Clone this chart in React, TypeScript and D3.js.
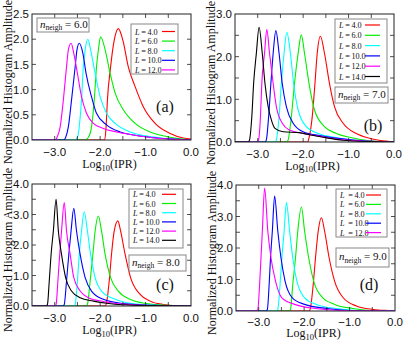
import React from "react";
import * as d3 from "d3";

type Pt = [number, number];

// ---------- data ----------
const COLORS = ["#ff0000", "#00ee00", "#00ffff", "#0000ff", "#ff00ff", "#000000"];
const L_LABELS_5 = ["4.0", "6.0", "8.0", "10.0", "12.0"];
const L_LABELS_6 = ["4.0", "6.0", "8.0", "10.0", "12.0", "14.0"];
const NEIGH_VALUES = ["6.0", "7.0", "8.0", "9.0"];
const PANEL_TAGS = ["(a)", "(b)", "(c)", "(d)"];
const X_TICK_VALUES = [-3, -2, -1, 0];
const X_TICK_LABELS = ["\u22123.0", "\u22122.0", "\u22121.0", "0.0"];
const Y_TICKS_A = [0, 0.5, 1, 1.5, 2, 2.5];
const Y_LABELS_A = ["0.0", "0.5", "1.0", "1.5", "2.0", "2.5"];
const Y_TICKS_B = [0, 1, 2, 3];
const Y_LABELS_B = ["0.0", "1.0", "2.0", "3.0"];
const Y_TICKS_CD = [0, 1, 2, 3, 4];
const Y_LABELS_CD = ["0.0", "1.0", "2.0", "3.0", "4.0"];

// panel (a): n_neigh = 6.0
const aL4: Pt[] = [[-3.5,0],[-1.9,0],[-1.87,0.25],[-1.84,0.79],[-1.77,1.45],[-1.69,1.98],[-1.6,2.21],[-1.5,1.98],[-1.38,1.45],[-1.23,1.06],[-1.05,0.66],[-0.79,0.33],[-0.46,0.13],[-0.17,0.04],[0,0.02]];
const aL6: Pt[] = [[-3.5,0],[-2.34,0],[-2.26,0.05],[-2.19,0.26],[-2.13,0.79],[-2.08,1.45],[-2.03,1.85],[-1.99,2.05],[-1.89,1.79],[-1.78,1.32],[-1.67,0.93],[-1.49,0.6],[-1.23,0.33],[-0.9,0.16],[-0.54,0.07],[-0.1,0.01],[0,0]];
const aL8: Pt[] = [[-3.5,0],[-2.56,0],[-2.49,0.08],[-2.45,0.35],[-2.41,0.79],[-2.37,1.45],[-2.33,1.79],[-2.27,2.0],[-2.21,1.79],[-2.11,1.32],[-2.0,0.86],[-1.86,0.53],[-1.67,0.33],[-1.34,0.16],[-0.9,0.07],[-0.35,0.01],[0,0]];
const aL10: Pt[] = [[-3.5,0],[-2.8,0],[-2.76,0.05],[-2.7,0.26],[-2.63,0.79],[-2.55,1.45],[-2.51,1.79],[-2.46,1.92],[-2.38,1.72],[-2.31,1.32],[-2.19,0.86],[-2.08,0.53],[-1.86,0.3],[-1.56,0.16],[-1.27,0.1],[-0.76,0.04],[-0.2,0.01],[0,0]];
const aL12: Pt[] = [[-3.5,0],[-2.98,0],[-2.95,0.05],[-2.88,0.26],[-2.81,0.79],[-2.74,1.45],[-2.7,1.79],[-2.64,1.92],[-2.58,1.72],[-2.5,1.32],[-2.41,0.86],[-2.3,0.53],[-2.15,0.33],[-1.93,0.23],[-1.64,0.16],[-1.27,0.1],[-0.8,0.04],[-0.3,0.01],[0,0]];

// panel (b): n_neigh = 7.0
const bL4: Pt[] = [[-3.5,0],[-1.9,0],[-1.87,0.1],[-1.8,0.59],[-1.74,1.37],[-1.69,2.08],[-1.62,2.48],[-1.53,2.08],[-1.42,1.37],[-1.31,0.83],[-1.12,0.44],[-0.83,0.2],[-0.54,0.09],[-0.17,0.02],[0,0]];
const bL6: Pt[] = [[-3.5,0],[-2.36,0],[-2.33,0.05],[-2.26,0.59],[-2.19,1.37],[-2.11,2.08],[-2.04,2.51],[-1.97,2.08],[-1.87,1.37],[-1.75,0.75],[-1.53,0.36],[-1.27,0.2],[-0.98,0.11],[-0.54,0.03],[0,0]];
const bL8: Pt[] = [[-3.5,0],[-2.62,0],[-2.59,0.05],[-2.53,0.59],[-2.48,1.37],[-2.42,2.08],[-2.36,2.57],[-2.28,2.08],[-2.21,1.37],[-2.11,0.75],[-1.93,0.36],[-1.67,0.2],[-1.31,0.11],[-0.8,0.03],[0,0]];
const bL10: Pt[] = [[-3.5,0],[-2.84,0],[-2.81,0.05],[-2.76,0.59],[-2.71,1.37],[-2.66,2.08],[-2.6,2.61],[-2.53,2.08],[-2.46,1.37],[-2.37,0.83],[-2.22,0.44],[-2.0,0.24],[-1.63,0.15],[-1.19,0.08],[-0.6,0.02],[0,0]];
const bL12: Pt[] = [[-3.5,0],[-3.01,0],[-2.98,0.05],[-2.94,0.59],[-2.91,1.37],[-2.85,2.08],[-2.8,2.64],[-2.74,2.08],[-2.66,1.37],[-2.59,0.83],[-2.46,0.44],[-2.3,0.28],[-2.0,0.2],[-1.56,0.12],[-1.0,0.04],[-0.4,0.01],[0,0]];
const bL14: Pt[] = [[-3.5,0],[-3.21,0],[-3.18,0.05],[-3.13,0.59],[-3.09,1.37],[-3.03,2.08],[-2.97,2.69],[-2.9,2.08],[-2.84,1.37],[-2.77,0.83],[-2.7,0.52],[-2.62,0.32],[-2.44,0.24],[-2.08,0.22],[-1.86,0.17],[-1.56,0.11],[-1.13,0.04],[-0.5,0.01],[0,0]];

// panel (c): n_neigh = 8.0
const cL4: Pt[] = [[-3.5,0],[-1.89,0],[-1.86,0.1],[-1.8,0.82],[-1.75,1.69],[-1.69,2.46],[-1.61,2.79],[-1.55,2.46],[-1.45,1.69],[-1.33,0.93],[-1.12,0.38],[-0.9,0.16],[-0.61,0.05],[-0.3,0.01],[0,0]];
const cL6: Pt[] = [[-3.5,0],[-2.31,0],[-2.28,0.05],[-2.22,0.82],[-2.16,1.69],[-2.11,2.46],[-2.04,2.95],[-1.97,2.46],[-1.89,1.69],[-1.77,0.93],[-1.6,0.49],[-1.34,0.22],[-0.98,0.08],[-0.5,0.02],[0,0]];
const cL8: Pt[] = [[-3.5,0],[-2.58,0],[-2.55,0.05],[-2.5,0.82],[-2.46,1.69],[-2.41,2.46],[-2.35,3.09],[-2.28,2.46],[-2.21,1.69],[-2.11,0.93],[-1.97,0.49],[-1.67,0.22],[-1.3,0.08],[-0.7,0.02],[0,0]];
const cL10: Pt[] = [[-3.5,0],[-2.82,0],[-2.79,0.05],[-2.74,0.82],[-2.69,1.69],[-2.64,2.46],[-2.58,3.2],[-2.52,2.46],[-2.44,1.69],[-2.33,0.93],[-2.19,0.49],[-1.93,0.22],[-1.49,0.08],[-0.8,0.02],[0,0]];
const cL12: Pt[] = [[-3.5,0],[-3.0,0],[-2.97,0.05],[-2.93,0.82],[-2.89,1.69],[-2.85,2.46],[-2.79,3.39],[-2.74,2.46],[-2.66,1.69],[-2.58,0.93],[-2.44,0.49],[-2.26,0.27],[-1.93,0.15],[-1.49,0.06],[-0.8,0.01],[0,0]];
const cL14: Pt[] = [[-3.5,0],[-3.19,0],[-3.16,0.05],[-3.12,0.82],[-3.08,1.69],[-3.03,2.46],[-2.97,3.5],[-2.92,2.46],[-2.85,1.69],[-2.76,0.93],[-2.63,0.49],[-2.44,0.27],[-2.15,0.16],[-1.81,0.08],[-1.2,0.02],[0,0]];

// panel (d): n_neigh = 9.0
const dL4: Pt[] = [[-3.5,0],[-1.89,0],[-1.86,0.1],[-1.8,0.85],[-1.75,1.69],[-1.69,2.54],[-1.62,2.96],[-1.55,2.54],[-1.45,1.69],[-1.33,0.95],[-1.14,0.42],[-0.85,0.16],[-0.48,0.05],[-0.1,0.01],[0,0]];
const dL6: Pt[] = [[-3.5,0],[-2.33,0],[-2.3,0.05],[-2.25,0.85],[-2.19,1.69],[-2.14,2.54],[-2.06,3.3],[-1.99,2.54],[-1.9,1.69],[-1.79,0.95],[-1.59,0.42],[-1.33,0.21],[-0.93,0.08],[-0.4,0.01],[0,0]];
const dL8: Pt[] = [[-3.5,0],[-2.61,0],[-2.58,0.05],[-2.53,0.85],[-2.49,1.69],[-2.44,2.54],[-2.39,3.44],[-2.32,2.54],[-2.25,1.69],[-2.16,0.95],[-1.99,0.42],[-1.73,0.21],[-1.3,0.08],[-0.6,0.01],[0,0]];
const dL10: Pt[] = [[-3.5,0],[-2.84,0],[-2.81,0.05],[-2.77,0.85],[-2.74,1.69],[-2.7,2.54],[-2.65,3.65],[-2.58,2.54],[-2.51,1.69],[-2.42,0.95],[-2.26,0.42],[-1.99,0.21],[-1.5,0.08],[-0.8,0.01],[0,0]];
const dL12: Pt[] = [[-3.5,0],[-3.05,0],[-3.02,0.05],[-2.98,0.85],[-2.95,1.69],[-2.92,2.54],[-2.87,3.9],[-2.8,2.54],[-2.73,1.69],[-2.63,0.95],[-2.49,0.42],[-2.21,0.21],[-1.75,0.08],[-1.0,0.01],[0,0]];

// ---------- drawing ----------
const SERIF = "'Liberation Serif', 'Times New Roman', serif";
const SANS = "'Liberation Sans', Arial, Helvetica, sans-serif";

type Frame = { l: number; t: number; r: number; b: number };
type Box = { x: number; y: number; w: number; h: number };

interface PanelProps {
  id: string;
  frame: Frame;
  yMax: number;
  yTicks: number[];
  yLabels: string[];
  series: Pt[][];
  lLabels: string[];
  legend: Box;
  row0: number;
  rowStep: number;
  textX: number;
  lineX0: number;
  lineX1: number;
  gap: number;
  nbox: Box;
  neigh: string;
  tag: string;
  tagX: number;
  tagY: number;
  xTitleY: number;
  xLabOff: number;
}

function Panel(p: PanelProps) {
  const { frame } = p;
  const x = d3.scaleLinear().domain([-3.5, 0]).range([frame.l, frame.r]);
  const y = d3.scaleLinear().domain([0, p.yMax]).range([frame.b, frame.t]);
  const line = d3
    .line<Pt>()
    .x((d) => x(d[0]))
    .y((d) => y(d[1]))
    .curve(d3.curveMonotoneX);
  const xMinor = d3.range(-3.0, -0.01, 0.5);
  const yMinor = d3.range(0.5, p.yMax - 0.01, 0.5);
  const tl = 4;
  const cx = (frame.l + frame.r) / 2;
  const cy = (frame.t + frame.b) / 2;
  return (
    <g>
      <defs>
        <clipPath id={`clip-${p.id}`}>
          <rect x={frame.l} y={frame.t} width={frame.r - frame.l} height={frame.b - frame.t} />
        </clipPath>
      </defs>
      <g clipPath={`url(#clip-${p.id})`}>
        {p.series.map((s, i) => (
          <path key={i} d={line(s) || ""} fill="none" stroke={COLORS[i]} strokeWidth={1.1} />
        ))}
      </g>
      {/* ticks */}
      <g stroke="#222" strokeWidth={0.8}>
        {xMinor.map((v, i) => (
          <g key={`xt${i}`}>
            <line x1={x(v)} x2={x(v)} y1={frame.b} y2={frame.b - tl} />
            <line x1={x(v)} x2={x(v)} y1={frame.t} y2={frame.t + tl} />
          </g>
        ))}
        {yMinor.map((v, i) => (
          <g key={`yt${i}`}>
            <line x1={frame.l} x2={frame.l + tl} y1={y(v)} y2={y(v)} />
            <line x1={frame.r} x2={frame.r - tl} y1={y(v)} y2={y(v)} />
          </g>
        ))}
      </g>
      <rect
        x={frame.l}
        y={frame.t}
        width={frame.r - frame.l}
        height={frame.b - frame.t}
        fill="none"
        stroke="#222"
        strokeWidth={1}
      />
      {/* tick labels */}
      <g fontFamily={SANS} fontSize={11.5} fill="#111">
        {X_TICK_VALUES.map((v, i) => (
          <text key={`xl${i}`} x={x(v)} y={frame.b + p.xLabOff} textAnchor="middle">
            {X_TICK_LABELS[i]}
          </text>
        ))}
        {p.yTicks.map((v, i) => (
          <text key={`yl${i}`} x={frame.l - 3} y={y(v) + 4.2} textAnchor="end">
            {p.yLabels[i]}
          </text>
        ))}
      </g>
      {/* axis titles */}
      <text
        fontFamily={SERIF}
        fontSize={12}
        fill="#111"
        textAnchor="middle"
        transform={`translate(${frame.l - 20.5},${cy + 5}) rotate(-90)`}
      >
        Normalized Histogram Amplitude
      </text>
      <text fontFamily={SERIF} fontSize={12} fill="#111" x={cx - 2} y={p.xTitleY} textAnchor="middle">
        Log
        <tspan fontSize={8.5} dy={2.5}>
          10
        </tspan>
        <tspan dy={-2.5}>(IPR)</tspan>
      </text>
      {/* legend */}
      <rect x={p.legend.x} y={p.legend.y} width={p.legend.w} height={p.legend.h} fill="#fff" stroke="#888" strokeWidth={1} />
      {p.lLabels.map((lab, i) => {
        const ry = p.row0 + i * p.rowStep;
        return (
          <g key={`lg${i}`}>
            <text x={p.textX} y={ry + 3} fontFamily={SERIF} fontSize={8.2} fill="#111">
              <tspan fontStyle="italic">L</tspan>
              <tspan dx={1.6 + p.gap}>=</tspan>
              <tspan dx={1.6}>{lab}</tspan>
            </text>
            <line x1={p.lineX0} x2={p.lineX1} y1={ry} y2={ry} stroke={COLORS[i]} strokeWidth={1.2} />
          </g>
        );
      })}
      {/* n_neigh box */}
      <rect x={p.nbox.x} y={p.nbox.y} width={p.nbox.w} height={p.nbox.h} fill="#fff" stroke="#888" strokeWidth={1} />
      <text
        x={p.nbox.x + 3}
        y={p.nbox.y + p.nbox.h / 2 + 2.5}
        fontFamily={SERIF}
        fontSize={11}
        fill="#111"
      >
        <tspan fontStyle="italic">n</tspan>
        <tspan fontSize={7.5} dy={2.5}>
          neigh
        </tspan>
        <tspan dy={-2.5}>{` = ${p.neigh}`}</tspan>
      </text>
      <text x={p.tagX} y={p.tagY} fontFamily={SERIF} fontSize={16} fill="#111" textAnchor="middle">
        {p.tag}
      </text>
    </g>
  );
}

export default function App() {
  return (
    <div style={{ position: "absolute", left: 0, top: 0 }}>
      <style>{`body{margin:0}`}</style>
      <svg width={407} height={342} viewBox="0 0 407 342" style={{ display: "block", background: "#fff" }}>
        <rect x={0} y={0} width={407} height={342} fill="#fff" />
        <Panel
          id="a"
          frame={{ l: 32, t: 14, r: 191, b: 140 }}
          yMax={2.5}
          yTicks={Y_TICKS_A}
          yLabels={Y_LABELS_A}
          series={[aL4, aL6, aL8, aL10, aL12]}
          lLabels={L_LABELS_5}
          legend={{ x: 131, y: 24, w: 47, h: 50 }}
          row0={31.5}
          rowStep={9.6}
          textX={135}
          lineX0={162}
          lineX1={175}
          gap={0}
          nbox={{ x: 37, y: 18, w: 52, h: 14 }}
          neigh={NEIGH_VALUES[0]}
          tag={PANEL_TAGS[0]}
          tagX={165}
          tagY={112}
          xTitleY={168}
          xLabOff={15.5}
        />
        <Panel
          id="b"
          frame={{ l: 235, t: 14, r: 394, b: 142 }}
          yMax={3.0}
          yTicks={Y_TICKS_B}
          yLabels={Y_LABELS_B}
          series={[bL4, bL6, bL8, bL10, bL12, bL14]}
          lLabels={L_LABELS_6}
          legend={{ x: 335, y: 19, w: 52, h: 64 }}
          row0={25}
          rowStep={10.3}
          textX={339}
          lineX0={365}
          lineX1={380}
          gap={0}
          nbox={{ x: 335, y: 87, w: 53, h: 16 }}
          neigh={NEIGH_VALUES[1]}
          tag={PANEL_TAGS[1]}
          tagX={373}
          tagY={131}
          xTitleY={169.5}
          xLabOff={15.5}
        />
        <Panel
          id="c"
          frame={{ l: 32, t: 184, r: 191, b: 306 }}
          yMax={4.0}
          yTicks={Y_TICKS_CD}
          yLabels={Y_LABELS_CD}
          series={[cL4, cL6, cL8, cL10, cL12, cL14]}
          lLabels={L_LABELS_6}
          legend={{ x: 129, y: 189, w: 54, h: 59 }}
          row0={194.3}
          rowStep={9.2}
          textX={133}
          lineX0={162}
          lineX1={176}
          gap={0}
          nbox={{ x: 129, y: 255, w: 57, h: 16 }}
          neigh={NEIGH_VALUES[2]}
          tag={PANEL_TAGS[2]}
          tagX={165}
          tagY={290}
          xTitleY={334}
          xLabOff={15.5}
        />
        <Panel
          id="d"
          frame={{ l: 236, t: 185, r: 395, b: 311 }}
          yMax={4.0}
          yTicks={Y_TICKS_CD}
          yLabels={Y_LABELS_CD}
          series={[dL4, dL6, dL8, dL10, dL12]}
          lLabels={L_LABELS_5}
          legend={{ x: 336, y: 189, w: 51, h: 48 }}
          row0={195}
          rowStep={9.4}
          textX={340}
          lineX0={366}
          lineX1={381}
          gap={2}
          nbox={{ x: 336, y: 248, w: 53, h: 19 }}
          neigh={NEIGH_VALUES[3]}
          tag={PANEL_TAGS[3]}
          tagX={369}
          tagY={290}
          xTitleY={337}
          xLabOff={14.5}
        />
      </svg>
    </div>
  );
}
